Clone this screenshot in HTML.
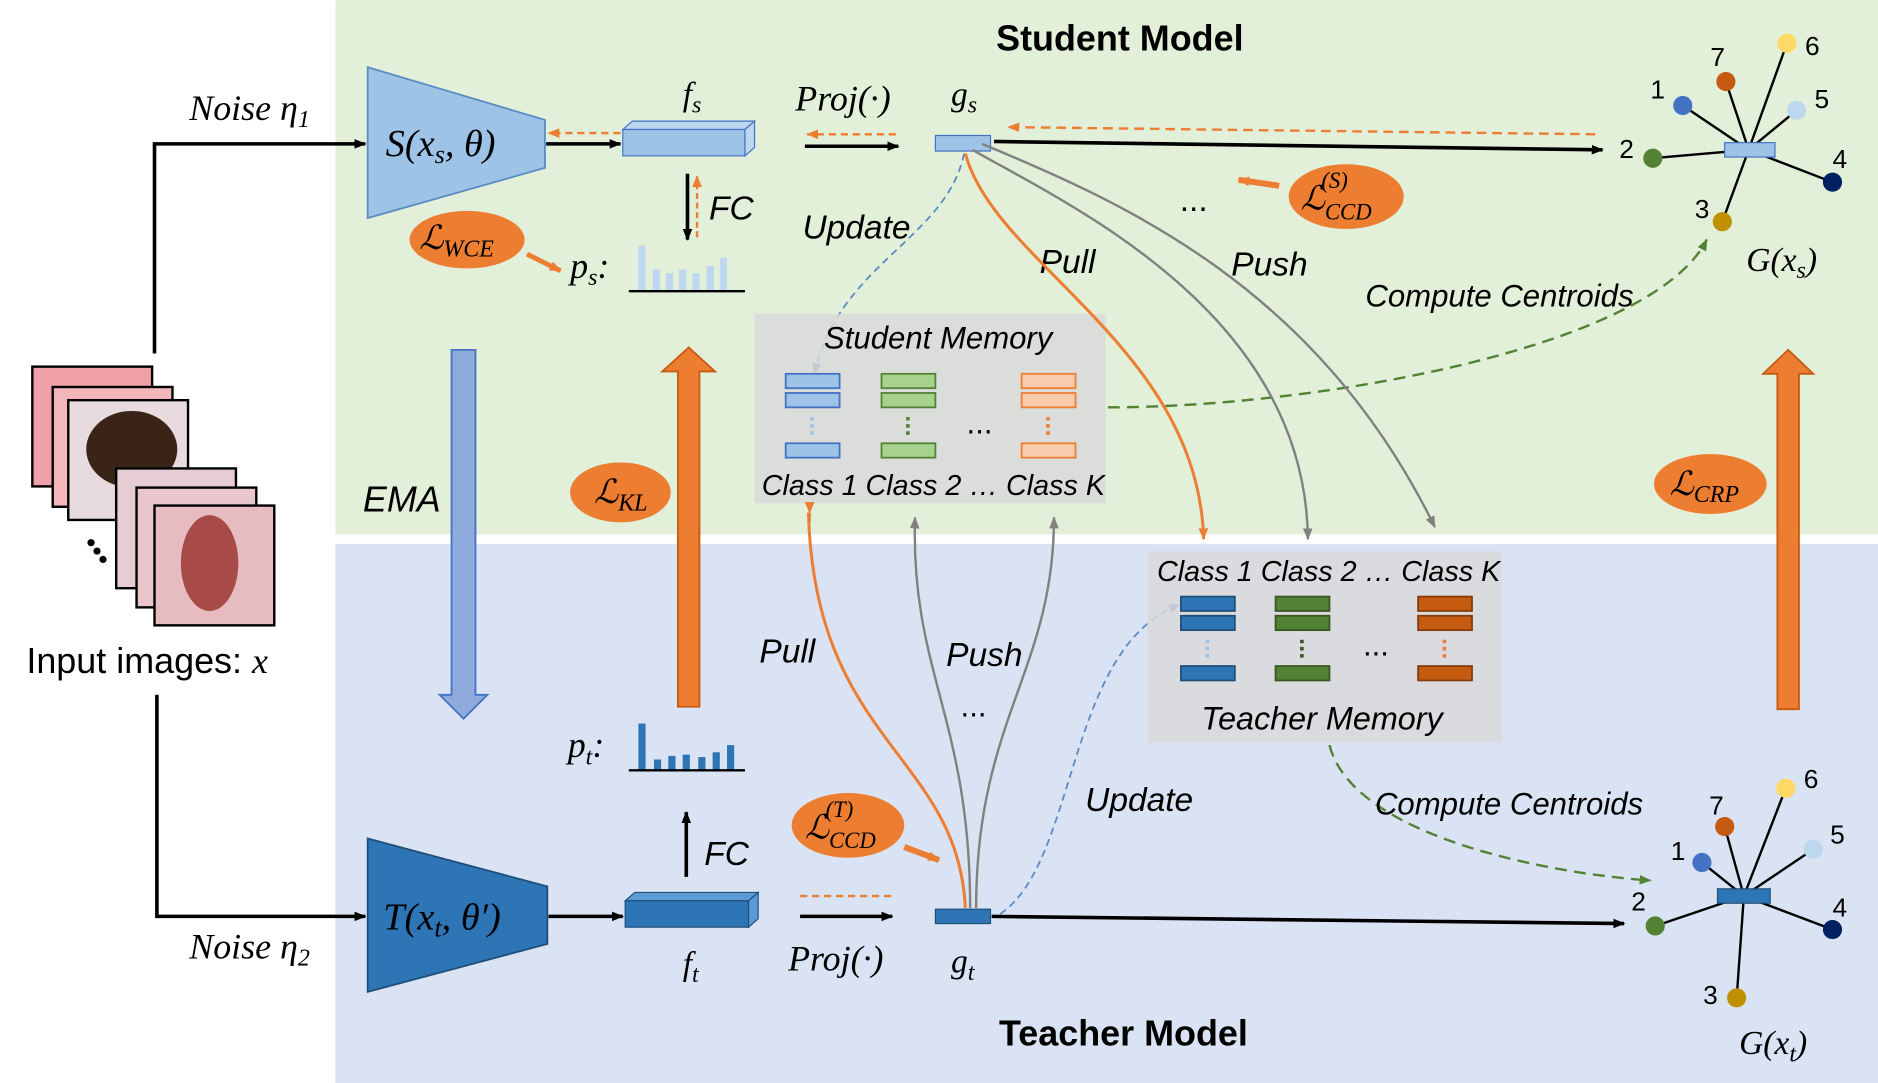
<!DOCTYPE html>
<html><head><meta charset="utf-8"><style>
html,body{margin:0;padding:0;background:#fff;}
svg{display:block;}
text{font-family:"Liberation Sans",sans-serif;}
.it{font-family:"Liberation Serif",serif;font-style:italic;}
.cal{font-family:"Liberation Sans",sans-serif;font-style:italic;}
</style></head><body>
<svg width="1878" height="1083" viewBox="0 0 1568 904" xmlns="http://www.w3.org/2000/svg">
<defs>
<marker id="ab" markerWidth="10" markerHeight="8" refX="9" refY="4" orient="auto" markerUnits="userSpaceOnUse"><path d="M0,0 L10,4 L0,8 z" fill="#000"/></marker>
<marker id="ao" markerWidth="10" markerHeight="8" refX="9" refY="4" orient="auto" markerUnits="userSpaceOnUse"><path d="M0,0 L10,4 L0,8 z" fill="#ed7d31"/></marker>
<marker id="ag" markerWidth="10" markerHeight="8" refX="9" refY="4" orient="auto" markerUnits="userSpaceOnUse"><path d="M0,0 L10,4 L0,8 z" fill="#808080"/></marker>
<marker id="abl" markerWidth="10" markerHeight="8" refX="9" refY="4" orient="auto" markerUnits="userSpaceOnUse"><path d="M0,0 L10,4 L0,8 z" fill="#4472c4"/></marker>
<marker id="agr" markerWidth="10" markerHeight="8" refX="9" refY="4" orient="auto" markerUnits="userSpaceOnUse"><path d="M0,0 L10,4 L0,8 z" fill="#548235"/></marker>
</defs>
<rect x="280" y="0" width="1288" height="446" fill="#e2efd9"/>
<rect x="280" y="454" width="1288" height="450" fill="#dae3f3"/>

<!-- input images -->
<rect x="27" y="306" width="100" height="100" fill="#f0a0a8" stroke="#000" stroke-width="2"/>
<rect x="44" y="323" width="100" height="100" fill="#f2b6bb" stroke="#000" stroke-width="2"/>
<rect x="57" y="334" width="100" height="100" fill="#e8dbe0" stroke="#000" stroke-width="2"/>
<ellipse cx="110" cy="375" rx="38" ry="32" fill="#3a2418"/>
<rect x="97" y="391" width="100" height="100" fill="#e6cdd4" stroke="#000" stroke-width="2"/>
<rect x="114" y="407" width="100" height="100" fill="#e8c6cc" stroke="#000" stroke-width="2"/>
<rect x="129" y="422" width="100" height="100" fill="#e6bcc0" stroke="#000" stroke-width="2"/>
<ellipse cx="175" cy="470" rx="24" ry="40" fill="#a84a48"/>
<circle cx="76" cy="453" r="3"/><circle cx="81" cy="460" r="3"/><circle cx="86" cy="467" r="3"/>
<text x="22" y="562" font-size="30">Input images: <tspan class="it">x</tspan></text>

<!-- noise lines -->
<polyline points="129,295 129,120 305,120" fill="none" stroke="#000" stroke-width="3" marker-end="url(#ab)"/>
<polyline points="131,580 131,765 305,765" fill="none" stroke="#000" stroke-width="3" marker-end="url(#ab)"/>
<text x="158" y="100" font-size="30" class="it">Noise η<tspan font-size="20" dy="6">1</tspan></text>
<text x="158" y="800" font-size="30" class="it">Noise η<tspan font-size="20" dy="6">2</tspan></text>

<!-- student network -->
<polygon points="307,56 455,100 455,140 307,182" fill="#9dc3e6" stroke="#5b8bc4" stroke-width="1.5"/>
<text x="322" y="130" font-size="32" class="it">S(x<tspan font-size="22" dy="6">s</tspan><tspan dy="-6">, θ)</tspan></text>
<line x1="456" y1="120" x2="518" y2="120" stroke="#000" stroke-width="3" marker-end="url(#ab)"/>
<line x1="518" y1="111" x2="458" y2="111" stroke="#ed7d31" stroke-width="2" stroke-dasharray="6,4" marker-end="url(#ao)"/>
<polygon points="520,108 622,108 630,101 528,101" fill="#bdd7ee" stroke="#4472c4"/>
<rect x="520" y="108" width="102" height="22" fill="#9dc3e6" stroke="#4472c4"/>
<polygon points="622,108 630,101 630,123 622,130" fill="#bdd7ee" stroke="#4472c4"/>
<text x="570" y="88" font-size="28" class="it">f<tspan font-size="20" dy="6">s</tspan></text>
<line x1="574" y1="145" x2="574" y2="200" stroke="#000" stroke-width="3" marker-end="url(#ab)"/>
<line x1="582" y1="198" x2="582" y2="147" stroke="#ed7d31" stroke-width="2" stroke-dasharray="5,3" marker-end="url(#ao)"/>
<text x="592" y="183" font-size="28" class="cal">FC</text>
<ellipse cx="390" cy="200" rx="48" ry="24" fill="#ed7d31"/>
<text x="350" y="208" font-size="28" class="it">ℒ<tspan font-size="20" dy="6">WCE</tspan></text>
<line x1="440" y1="212" x2="468" y2="226" stroke="#ed7d31" stroke-width="4" marker-end="url(#ao)"/>
<text x="476" y="232" font-size="30" class="it">p<tspan font-size="20" dy="6">s</tspan><tspan dy="-6">:</tspan></text>
<g fill="#bdd7ee"><rect x="533" y="205" width="6" height="38"/><rect x="545" y="225" width="6" height="18"/><rect x="556" y="228" width="6" height="15"/><rect x="567" y="225" width="6" height="18"/><rect x="578" y="228" width="6" height="15"/><rect x="590" y="222" width="6" height="21"/><rect x="601" y="215" width="6" height="28"/></g>
<line x1="525" y1="243" x2="622" y2="243" stroke="#000" stroke-width="2"/>

<text x="664" y="92" font-size="30" class="it">Proj(·)</text>
<line x1="672" y1="122" x2="750" y2="122" stroke="#000" stroke-width="3" marker-end="url(#ab)"/>
<line x1="748" y1="112" x2="674" y2="112" stroke="#ed7d31" stroke-width="2" stroke-dasharray="6,4" marker-end="url(#ao)"/>
<text x="794" y="88" font-size="28" class="it">g<tspan font-size="20" dy="6">s</tspan></text>
<rect x="781" y="113" width="46" height="13" fill="#9dc3e6" stroke="#4472c4"/>
<line x1="830" y1="118" x2="1338" y2="125" stroke="#000" stroke-width="3" marker-end="url(#ab)"/>
<line x1="1332" y1="112" x2="842" y2="106" stroke="#ed7d31" stroke-width="2" stroke-dasharray="8,5" marker-end="url(#ao)"/>
<text x="935" y="42" font-size="30" font-weight="bold" text-anchor="middle">Student Model</text>
<text x="670" y="199" font-size="28" class="cal">Update</text>
<path d="M805,128 C790,200 700,220 680,312" fill="none" stroke="#5b8bc4" stroke-width="1.5" stroke-dasharray="6,4" marker-end="url(#abl)"/>
<text x="985" y="176" font-size="28">...</text>
<ellipse cx="1124" cy="164" rx="48" ry="27" fill="#ed7d31"/>
<text x="1086" y="175" font-size="28" class="it">ℒ<tspan font-size="19" dy="8">CCD</tspan><tspan font-size="19" dx="-42" dy="-26">(S)</tspan></text>
<line x1="1068" y1="155" x2="1034" y2="150" stroke="#ed7d31" stroke-width="5" marker-end="url(#ao)"/>
<text x="868" y="228" font-size="28" class="cal">Pull</text>
<text x="1028" y="230" font-size="28" class="cal">Push</text>
<text x="1140" y="256" font-size="26" class="cal">Compute Centroids</text>

<!-- student memory -->
<rect x="630" y="262" width="293" height="158" fill="#d9d9d9" opacity="0.85"/>
<text x="688" y="291" font-size="26" class="cal">Student Memory</text>
<g stroke="#4472c4" stroke-width="1.5"><rect x="656" y="312" width="45" height="12" fill="#9dc3e6"/><rect x="656" y="328" width="45" height="12" fill="#9dc3e6"/><rect x="656" y="370" width="45" height="12" fill="#9dc3e6"/></g>
<line x1="678" y1="348" x2="678" y2="364" stroke="#9dc3e6" stroke-width="3" stroke-dasharray="3,3"/>
<g stroke="#548235" stroke-width="1.5"><rect x="736" y="312" width="45" height="12" fill="#a9d18e"/><rect x="736" y="328" width="45" height="12" fill="#a9d18e"/><rect x="736" y="370" width="45" height="12" fill="#a9d18e"/></g>
<line x1="758" y1="348" x2="758" y2="364" stroke="#548235" stroke-width="3" stroke-dasharray="3,3"/>
<text x="807" y="362" font-size="26">...</text>
<g stroke="#ed7d31" stroke-width="1.5"><rect x="853" y="312" width="45" height="12" fill="#f8cbad"/><rect x="853" y="328" width="45" height="12" fill="#f8cbad"/><rect x="853" y="370" width="45" height="12" fill="#f8cbad"/></g>
<line x1="875" y1="348" x2="875" y2="364" stroke="#ed7d31" stroke-width="3" stroke-dasharray="3,3"/>
<text x="636" y="413" font-size="24" class="cal">Class 1  Class 2 … Class K</text>
<path d="M925,340 C1100,340 1380,290 1425,200" fill="none" stroke="#548235" stroke-width="2" stroke-dasharray="10,6" marker-end="url(#agr)"/>

<!-- student pull/push curves -->
<path d="M806,128 C830,220 1000,290 1005,450" fill="none" stroke="#ed7d31" stroke-width="2.5" marker-end="url(#ao)"/>
<path d="M812,125 C890,170 1090,260 1092,450" fill="none" stroke="#808080" stroke-width="2" marker-end="url(#ag)"/>
<path d="M820,120 C940,170 1100,240 1198,440" fill="none" stroke="#808080" stroke-width="2" marker-end="url(#ag)"/>

<!-- EMA / KL arrows -->
<polygon points="377,292 397,292 397,580 407,580 387,600 367,580 377,580" fill="#8faadc" stroke="#4472c4" stroke-width="1.5"/>
<text x="303" y="427" font-size="30" class="cal">EMA</text>
<polygon points="566,590 584,590 584,310 597,310 575,290 553,310 566,310" fill="#ed7d31" stroke="#c55a11" stroke-width="1.5"/>
<ellipse cx="518" cy="411" rx="42" ry="25" fill="#ed7d31"/>
<text x="496" y="420" font-size="28" class="it">ℒ<tspan font-size="20" dy="6">KL</tspan></text>
<polygon points="1484,592 1502,592 1502,312 1514,312 1493,292 1472,312 1484,312" fill="#ed7d31" stroke="#c55a11" stroke-width="1.5"/>
<ellipse cx="1428" cy="404" rx="47" ry="25" fill="#ed7d31"/>
<text x="1394" y="413" font-size="28" class="it">ℒ<tspan font-size="20" dy="6">CRP</tspan></text>

<!-- student graph -->
<g stroke="#000" stroke-width="2"><line x1="1460" y1="125" x2="1405" y2="88"/><line x1="1460" y1="125" x2="1441" y2="68"/><line x1="1460" y1="125" x2="1492" y2="36"/><line x1="1460" y1="125" x2="1500" y2="92"/><line x1="1460" y1="125" x2="1530" y2="152"/><line x1="1460" y1="125" x2="1438" y2="185"/><line x1="1460" y1="125" x2="1380" y2="132"/></g>
<rect x="1440" y="119" width="42" height="12" fill="#9dc3e6" stroke="#4472c4"/>
<circle cx="1405" cy="88" r="8" fill="#4472c4"/><circle cx="1441" cy="68" r="8" fill="#c55a11"/><circle cx="1492" cy="36" r="8" fill="#ffd966"/><circle cx="1500" cy="92" r="8" fill="#bdd7ee"/><circle cx="1530" cy="152" r="8" fill="#002060"/><circle cx="1438" cy="185" r="8" fill="#bf9000"/><circle cx="1380" cy="132" r="8" fill="#548235"/>
<g font-size="22"><text x="1378" y="82">1</text><text x="1428" y="55">7</text><text x="1507" y="46">6</text><text x="1515" y="90">5</text><text x="1530" y="140">4</text><text x="1415" y="182">3</text><text x="1352" y="132">2</text></g>
<text x="1458" y="226" font-size="28" class="it">G(x<tspan font-size="20" dy="6">s</tspan><tspan dy="-6">)</tspan></text>

<!-- teacher -->
<polygon points="307,700 457,740 457,788 307,828" fill="#2e75b6" stroke="#1f4e79" stroke-width="1.5"/>
<text x="320" y="776" font-size="32" class="it">T(x<tspan font-size="22" dy="6">t</tspan><tspan dy="-6">, θ′)</tspan></text>
<line x1="458" y1="765" x2="520" y2="765" stroke="#000" stroke-width="3" marker-end="url(#ab)"/>
<polygon points="522,752 625,752 633,745 530,745" fill="#5b9bd5" stroke="#1f4e79"/>
<rect x="522" y="752" width="103" height="22" fill="#2e75b6" stroke="#1f4e79"/>
<polygon points="625,752 633,745 633,767 625,774" fill="#5b9bd5" stroke="#1f4e79"/>
<text x="570" y="814" font-size="28" class="it">f<tspan font-size="20" dy="6">t</tspan></text>
<line x1="573" y1="732" x2="573" y2="678" stroke="#000" stroke-width="3" marker-end="url(#ab)"/>
<text x="588" y="722" font-size="28" class="cal">FC</text>
<text x="474" y="632" font-size="30" class="it">p<tspan font-size="20" dy="6">t</tspan><tspan dy="-6">:</tspan></text>
<g fill="#2e75b6"><rect x="533" y="604" width="6" height="39"/><rect x="546" y="634" width="6" height="9"/><rect x="558" y="631" width="6" height="12"/><rect x="570" y="630" width="6" height="13"/><rect x="583" y="632" width="6" height="11"/><rect x="595" y="628" width="6" height="15"/><rect x="607" y="622" width="6" height="21"/></g>
<line x1="525" y1="643" x2="622" y2="643" stroke="#000" stroke-width="2"/>
<text x="658" y="810" font-size="30" class="it">Proj(·)</text>
<line x1="668" y1="765" x2="745" y2="765" stroke="#000" stroke-width="3" marker-end="url(#ab)"/>
<line x1="744" y1="748" x2="668" y2="748" stroke="#ed7d31" stroke-width="2" stroke-dasharray="6,4"/>
<rect x="781" y="759" width="46" height="12" fill="#2e75b6" stroke="#1f4e79"/>
<text x="794" y="812" font-size="28" class="it">g<tspan font-size="20" dy="6">t</tspan></text>
<line x1="828" y1="765" x2="1356" y2="771" stroke="#000" stroke-width="3" marker-end="url(#ab)"/>
<ellipse cx="708" cy="689" rx="47" ry="27" fill="#ed7d31"/>
<text x="672" y="700" font-size="28" class="it">ℒ<tspan font-size="19" dy="8">CCD</tspan><tspan font-size="19" dx="-42" dy="-26">(T)</tspan></text>
<line x1="755" y1="707" x2="784" y2="718" stroke="#ed7d31" stroke-width="5" marker-end="url(#ao)"/>
<text x="938" y="873" font-size="30" font-weight="bold" text-anchor="middle">Teacher Model</text>
<text x="634" y="553" font-size="28" class="cal">Pull</text>
<text x="790" y="556" font-size="28" class="cal">Push</text>
<text x="802" y="598" font-size="26">...</text>
<text x="906" y="677" font-size="28" class="cal">Update</text>
<path d="M675,428 C680,620 800,630 806,758" fill="none" stroke="#ed7d31" stroke-width="2.5"/>
<path d="M676,428 L676,436" stroke="#ed7d31" stroke-width="2" marker-start="url(#ao)"/>
<path d="M810,758 C810,600 760,560 764,432" fill="none" stroke="#808080" stroke-width="2" marker-end="url(#ag)"/>
<path d="M815,758 C815,600 880,560 880,432" fill="none" stroke="#808080" stroke-width="2" marker-end="url(#ag)"/>
<path d="M835,763 C900,720 890,540 985,505" fill="none" stroke="#5b8bc4" stroke-width="1.5" stroke-dasharray="6,4" marker-end="url(#abl)"/>

<!-- teacher memory -->
<rect x="958" y="460" width="296" height="160" fill="#d9d9d9" opacity="0.85"/>
<text x="966" y="485" font-size="24" class="cal">Class 1  Class 2 … Class K</text>
<g stroke="#1f4e79" stroke-width="1.5" fill="#2e75b6"><rect x="986" y="498" width="45" height="12"/><rect x="986" y="514" width="45" height="12"/><rect x="986" y="556" width="45" height="12"/></g>
<line x1="1008" y1="534" x2="1008" y2="550" stroke="#9dc3e6" stroke-width="3" stroke-dasharray="3,3"/>
<g stroke="#385723" stroke-width="1.5" fill="#548235"><rect x="1065" y="498" width="45" height="12"/><rect x="1065" y="514" width="45" height="12"/><rect x="1065" y="556" width="45" height="12"/></g>
<line x1="1087" y1="534" x2="1087" y2="550" stroke="#385723" stroke-width="3" stroke-dasharray="3,3"/>
<text x="1138" y="547" font-size="26">...</text>
<g stroke="#843c0c" stroke-width="1.5" fill="#c55a11"><rect x="1184" y="498" width="45" height="12"/><rect x="1184" y="514" width="45" height="12"/><rect x="1184" y="556" width="45" height="12"/></g>
<line x1="1206" y1="534" x2="1206" y2="550" stroke="#ed7d31" stroke-width="3" stroke-dasharray="3,3"/>
<text x="1003" y="609" font-size="27" class="cal">Teacher Memory</text>
<path d="M1110,622 C1130,700 1300,730 1378,735" fill="none" stroke="#548235" stroke-width="2" stroke-dasharray="10,6" marker-end="url(#agr)"/>
<text x="1148" y="680" font-size="26" class="cal">Compute Centroids</text>

<!-- teacher graph -->
<g stroke="#000" stroke-width="2"><line x1="1456" y1="748" x2="1421" y2="720"/><line x1="1456" y1="748" x2="1440" y2="690"/><line x1="1456" y1="748" x2="1491" y2="658"/><line x1="1456" y1="748" x2="1514" y2="709"/><line x1="1456" y1="748" x2="1530" y2="776"/><line x1="1456" y1="748" x2="1450" y2="833"/><line x1="1456" y1="748" x2="1382" y2="773"/></g>
<rect x="1434" y="742" width="44" height="12" fill="#2e75b6" stroke="#1f4e79"/>
<circle cx="1421" cy="720" r="8" fill="#4472c4"/><circle cx="1440" cy="690" r="8" fill="#c55a11"/><circle cx="1491" cy="658" r="8" fill="#ffd966"/><circle cx="1514" cy="709" r="8" fill="#bdd7ee"/><circle cx="1530" cy="776" r="8" fill="#002060"/><circle cx="1450" cy="833" r="8" fill="#bf9000"/><circle cx="1382" cy="773" r="8" fill="#548235"/>
<g font-size="22"><text x="1395" y="718">1</text><text x="1427" y="680">7</text><text x="1506" y="658">6</text><text x="1528" y="704">5</text><text x="1530" y="765">4</text><text x="1422" y="838">3</text><text x="1362" y="760">2</text></g>
<text x="1452" y="880" font-size="28" class="it">G(x<tspan font-size="20" dy="6">t</tspan><tspan dy="-6">)</tspan></text>
</svg>
</body></html>
